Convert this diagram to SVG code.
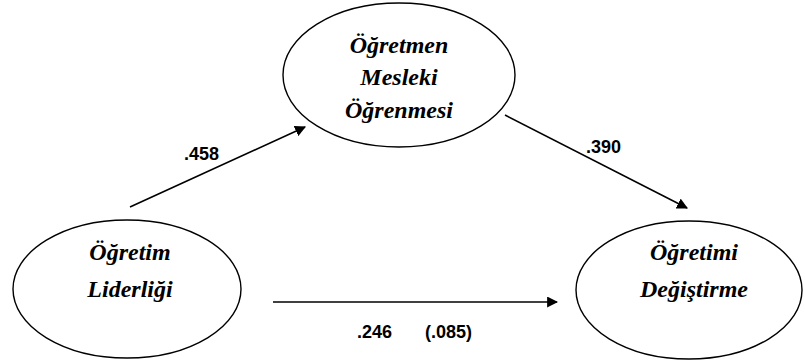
<svg xmlns="http://www.w3.org/2000/svg" width="805" height="361" viewBox="0 0 805 361">
<style>
.node{fill:#fff;stroke:#000;stroke-width:1.4}
.nt{font-family:"Liberation Serif","Times New Roman",serif;font-weight:bold;font-style:italic;font-size:24px;fill:#000;text-anchor:middle}
.lbl{font-family:"Liberation Sans",Arial,sans-serif;font-weight:bold;font-size:18px;fill:#000}
.edge{stroke:#000;stroke-width:1.6;fill:none;marker-end:url(#ah)}
</style>
<defs>
<marker id="ah" viewBox="0 0 10 10" refX="9" refY="5" markerWidth="11" markerHeight="11" markerUnits="userSpaceOnUse" orient="auto">
<path d="M0,0 L10,5 L0,10 Z" fill="#000"/>
</marker>
</defs>
<rect width="805" height="361" fill="#fff"/>
<g id="connectors">
<line class="edge" x1="130" y1="207" x2="305" y2="127"/>
<line class="edge" x1="505" y1="115" x2="687" y2="208"/>
<line class="edge" x1="273" y1="302" x2="557" y2="302"/>
<text class="lbl" x="184" y="160">.458</text>
<text class="lbl" x="586" y="153">.390</text>
<text class="lbl" x="357" y="338">.246<tspan x="425">(.085)</tspan></text>
</g>
<g id="node-ogretmen">
<ellipse class="node" cx="399" cy="75" rx="116" ry="72"/>
<text class="nt" x="399" y="53">Öğretmen</text>
<text class="nt" x="399" y="85">Mesleki</text>
<text class="nt" x="399" y="118">Öğrenmesi</text>
</g>
<g id="node-liderlik">
<ellipse class="node" cx="127" cy="289" rx="114" ry="69"/>
<text class="nt" x="130" y="260">Öğretim</text>
<text class="nt" x="130" y="297">Liderliği</text>
</g>
<g id="node-degistirme">
<ellipse class="node" cx="689" cy="290" rx="113" ry="69"/>
<text class="nt" x="694" y="260">Öğretimi</text>
<text class="nt" x="694" y="297">Değiştirme</text>
</g>
</svg>
